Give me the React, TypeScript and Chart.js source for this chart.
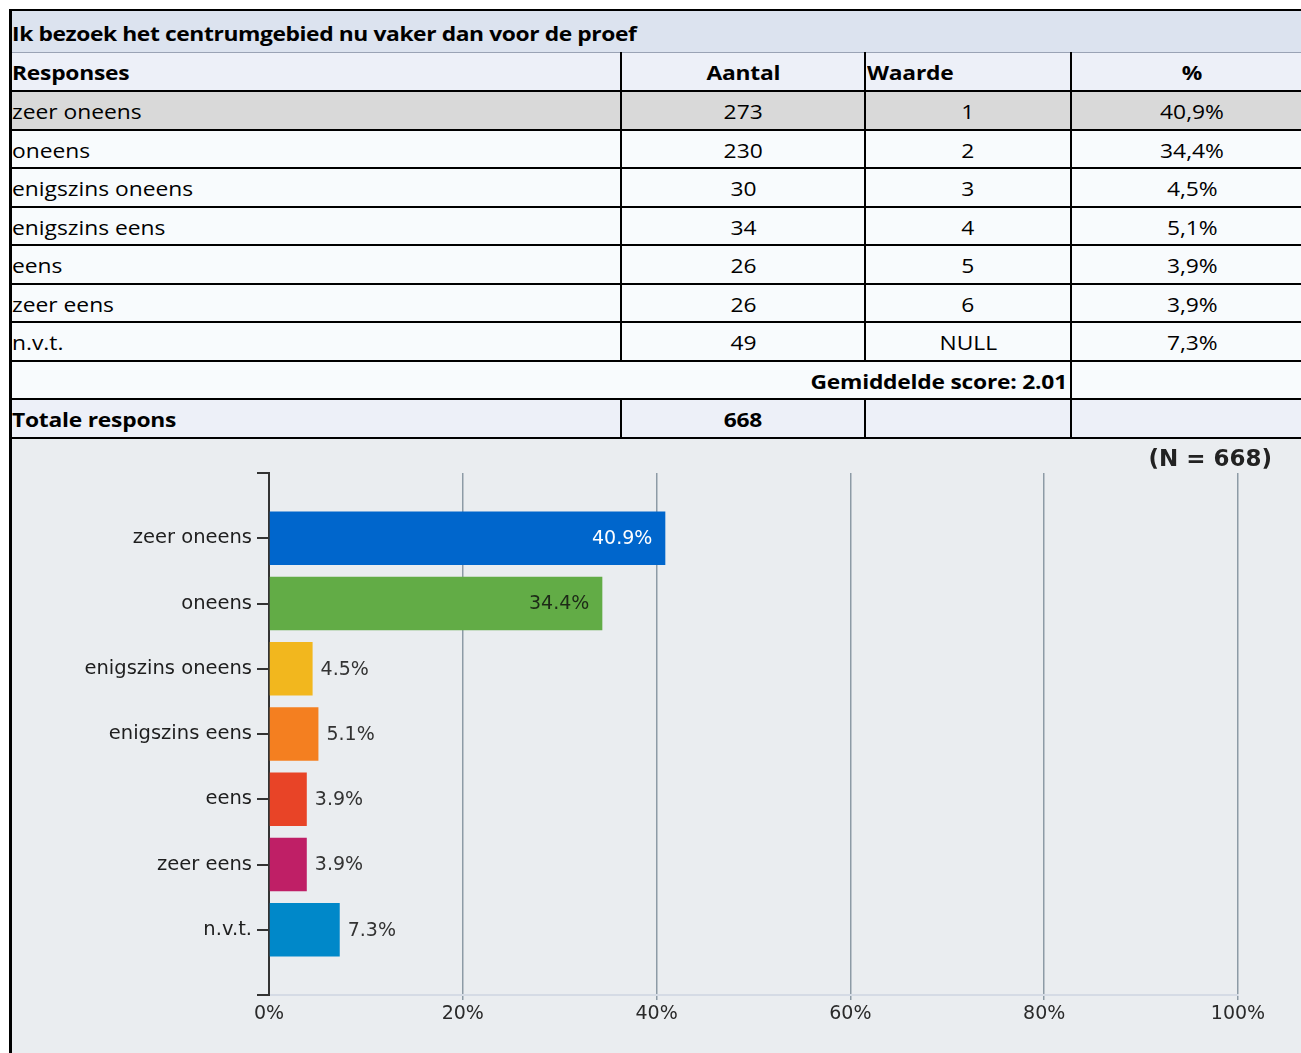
import React, { useEffect, useRef } from 'react';
import { Chart, registerables } from 'chart.js';

Chart.register(...registerables);

// ---------- data ----------
const titleText = 'Ik bezoek het centrumgebied nu vaker dan voor de proef';
const headerLabels = ['Responses', 'Aantal', 'Waarde', '%'];
const categories = ['zeer oneens', 'oneens', 'enigszins oneens', 'enigszins eens', 'eens', 'zeer eens', 'n.v.t.'];
const counts = [273, 230, 30, 34, 26, 26, 49];
const scoreValues = ['1', '2', '3', '4', '5', '6', 'NULL'];
const percentages = [40.9, 34.4, 4.5, 5.1, 3.9, 3.9, 7.3];
const averageText = 'Gemiddelde score: 2.01';
const totalLabel = 'Totale respons';
const totalCount = 668;
const sampleText = '(N = 668)';
const xTickValues = [0, 20, 40, 60, 80, 100];

// ---------- styles ----------
const barColors = ['#0066cc', '#62ac46', '#f2b71e', '#f47f20', '#e84427', '#bf1f66', '#0088c9'];
const rowY = [10, 52, 91, 130, 168, 207, 245, 284, 322, 361, 399, 438];
const colX = [10, 621, 865, 1071, 1313];
const TABLE_FONT = '"Open Sans", "Noto Sans", sans-serif';
const CHART_FONT = '"DejaVu Sans", sans-serif';
const FS = 20;
const SX = 1.14;

type Align = 'left' | 'center' | 'right';

function Cell(props: {
  x0: number;
  x1: number;
  y0: number;
  y1: number;
  text: string;
  align: Align;
  bold?: boolean;
  bg?: string;
  dy?: number;
  spacing?: number;
}) {
  const { x0, x1, y0, y1, text, align, bold, bg, dy, spacing } = props;
  const justify = align === 'left' ? 'flex-start' : align === 'right' ? 'flex-end' : 'center';
  return (
    <div
      style={{
        position: 'absolute',
        left: x0,
        top: y0,
        width: x1 - x0,
        height: y1 - y0,
        background: bg,
        display: 'flex',
        alignItems: 'center',
        justifyContent: justify,
        paddingLeft: align === 'left' ? 2 : 0,
        paddingRight: align === 'right' ? 4 : 0,
        paddingTop: dy ? dy : 0,
        boxSizing: 'border-box',
        fontFamily: TABLE_FONT,
        fontSize: FS,
        fontWeight: bold ? 700 : 400,
        color: '#000',
        whiteSpace: 'nowrap',
      }}
    >
      <span
        style={{
          display: 'inline-block',
          transform: `scaleX(${SX})`,
          transformOrigin: align === 'left' ? 'left center' : align === 'right' ? 'right center' : 'center center',
          letterSpacing: spacing ?? (bold ? -0.2 : 0),
        }}
      >
        {text}
      </span>
    </div>
  );
}

function HLine(props: { y: number; x0: number; x1: number; color?: string; w?: number }) {
  const w = props.w ?? 2;
  return (
    <div
      style={{
        position: 'absolute',
        left: props.x0,
        top: props.y - w / 2,
        width: props.x1 - props.x0,
        height: w,
        background: props.color ?? '#000',
      }}
    />
  );
}

function VLine(props: { x: number; y0: number; y1: number; w?: number }) {
  const w = props.w ?? 2;
  return (
    <div
      style={{
        position: 'absolute',
        left: props.x - w / 2,
        top: props.y0,
        width: w,
        height: props.y1 - props.y0,
        background: '#000',
      }}
    />
  );
}

function pctText(p: number) {
  return p.toFixed(1).replace('.', ',') + '%';
}

function luminance(hex: string) {
  const n = parseInt(hex.slice(1), 16);
  const r = ((n >> 16) & 255) / 255;
  const g = ((n >> 8) & 255) / 255;
  const b = (n & 255) / 255;
  return 0.2126 * r + 0.7152 * g + 0.0722 * b;
}

export default function App() {
  const canvasRef = useRef<HTMLCanvasElement | null>(null);

  useEffect(() => {
    const canvas = canvasRef.current;
    if (!canvas) return;
    const labels = ['', ...categories, ''];
    const data = [null, ...percentages, null];
    const colors = ['#000000', ...barColors, '#000000'];

    const valueLabels = {
      id: 'valueLabels',
      afterDatasetsDraw(chart: any) {
        const ctx = chart.ctx;
        const meta = chart.getDatasetMeta(0);
        ctx.save();
        ctx.font = `19px ${CHART_FONT}`;
        ctx.textBaseline = 'middle';
        meta.data.forEach((bar: any, i: number) => {
          const v = data[i];
          if (v == null) return;
          const text = v.toFixed(1) + '%';
          if (v > 20) {
            ctx.textAlign = 'right';
            ctx.fillStyle = luminance(colors[i]) < 0.45 ? '#ffffff' : '#1d2a17';
            ctx.fillText(text, bar.x - 13, bar.y + 1);
          } else {
            ctx.textAlign = 'left';
            ctx.fillStyle = '#333333';
            ctx.fillText(text, bar.x + 8, bar.y + 1);
          }
        });
        ctx.restore();
      },
    };

    const chart = new Chart(canvas, {
      type: 'bar',
      data: {
        labels,
        datasets: [
          {
            data,
            backgroundColor: colors,
            borderWidth: 0,
            barPercentage: 0.82,
            categoryPercentage: 1,
          },
        ],
      },
      options: {
        indexAxis: 'y',
        responsive: false,
        animation: false,
        devicePixelRatio: 1,
        layout: { padding: { top: 34, right: 63, left: 0, bottom: 0 } },
        plugins: { legend: { display: false }, tooltip: { enabled: false }, title: { display: false } },
        scales: {
          x: {
            type: 'linear',
            min: xTickValues[0],
            max: xTickValues[xTickValues.length - 1],
            afterBuildTicks: (s: any) => {
              s.ticks = xTickValues.map((v) => ({ value: v }));
            },
            ticks: {
              callback: (v: any) => v + '%',
              color: '#2a2a2a',
              font: { family: CHART_FONT, size: 19 },
              padding: 3,
              maxRotation: 0,
            },
            grid: {
              color: (c: any) => (c.tick && c.tick.value === 0 ? 'rgba(0,0,0,0)' : '#8d9ba6'),
              lineWidth: 1.5,
              tickLength: 5,
              drawTicks: true,
            },
            border: { display: true, color: '#d5dbe5', width: 2 },
            afterFit: (s: any) => {
              s.height = 58;
            },
          },
          y: {
            type: 'category',
            offset: false,
            ticks: { color: '#1e1e1e', font: { family: CHART_FONT, size: 19.5 }, padding: 5, autoSkip: false },
            grid: { drawOnChartArea: false, drawTicks: true, tickLength: 12, color: '#333', lineWidth: 2, offset: false },
            border: { display: true, color: '#333', width: 2 },
            afterFit: (s: any) => {
              s.width = 258;
            },
          },
        },
      } as any,
      plugins: [valueLabels],
    });
    return () => chart.destroy();
  }, []);

  const rows: { cells: string[]; bg: string; bold?: boolean }[] = [];
  rows.push({ cells: headerLabels, bg: '#edf0f8', bold: true });
  categories.forEach((c, i) => {
    rows.push({
      cells: [c, String(counts[i]), scoreValues[i], pctText(percentages[i])],
      bg: i === 0 ? '#d9d9d9' : '#f8fbfd',
    });
  });
  const aligns: Align[] = ['left', 'center', 'center', 'center'];
  const headerAligns: Align[] = ['left', 'center', 'left', 'center'];

  const elements: React.ReactNode[] = [];
  // title row
  elements.push(
    <Cell
      key="title"
      x0={colX[0]}
      x1={colX[4]}
      y0={rowY[0]}
      y1={rowY[1]}
      text={titleText}
      align="left"
      bold
      bg="#dce3ef"
      dy={5}
      spacing={-0.35}
    />
  );
  rows.forEach((r, ri) => {
    const y0 = rowY[ri + 1];
    const y1 = rowY[ri + 2];
    r.cells.forEach((t, ci) => {
      elements.push(
        <Cell
          key={`r${ri}c${ci}`}
          x0={colX[ci]}
          x1={colX[ci + 1]}
          y0={y0}
          y1={y1}
          text={t}
          align={ri === 0 ? headerAligns[ci] : aligns[ci]}
          bold={r.bold}
          bg={r.bg}
          dy={2}
        />
      );
    });
  });
  // average row
  elements.push(
    <Cell key="avg" x0={colX[0]} x1={colX[3]} y0={rowY[9]} y1={rowY[10]} text={averageText} align="right" bold bg="#f8fbfd" dy={2} />
  );
  elements.push(<Cell key="avg2" x0={colX[3]} x1={colX[4]} y0={rowY[9]} y1={rowY[10]} text="" align="left" bg="#f8fbfd" />);
  // total row
  elements.push(
    <Cell key="tot0" x0={colX[0]} x1={colX[1]} y0={rowY[10]} y1={rowY[11]} text={totalLabel} align="left" bold bg="#edf0f8" dy={2} />
  );
  elements.push(
    <Cell key="tot1" x0={colX[1]} x1={colX[2]} y0={rowY[10]} y1={rowY[11]} text={String(totalCount)} align="center" bold bg="#edf0f8" dy={2} />
  );
  elements.push(<Cell key="tot2" x0={colX[2]} x1={colX[3]} y0={rowY[10]} y1={rowY[11]} text="" align="center" bg="#edf0f8" />);
  elements.push(<Cell key="tot3" x0={colX[3]} x1={colX[4]} y0={rowY[10]} y1={rowY[11]} text="" align="center" bg="#edf0f8" />);

  // lines
  const lines: React.ReactNode[] = [];
  rowY.forEach((y, i) => {
    if (i === 1) lines.push(<HLine key={`h${i}`} y={y} x0={colX[0]} x1={colX[4]} color="#9aa3b5" w={1} />);
    else lines.push(<HLine key={`h${i}`} y={y} x0={colX[0] - 1} x1={colX[4]} />);
  });
  [1, 2, 3].forEach((ci) => {
    lines.push(<VLine key={`v${ci}a`} x={colX[ci]} y0={rowY[1]} y1={rowY[9]} />);
    lines.push(<VLine key={`v${ci}b`} x={colX[ci]} y0={rowY[10]} y1={rowY[11]} />);
  });
  lines.push(<VLine key="v3avg" x={colX[3]} y0={rowY[9]} y1={rowY[10]} />);
  lines.push(<VLine key="vleft" x={colX[0]} y0={rowY[0] - 1} y1={1053} w={3} />);

  return (
    <div style={{ position: 'fixed', left: 0, top: 0, width: 1301, height: 1053, overflow: 'hidden', background: '#ffffff' }}>
      {elements}
      <div style={{ position: 'absolute', left: 11, top: 439, width: 1290, height: 614, background: '#eaedf0' }} />
      <canvas
        ref={canvasRef}
        width={1290}
        height={614}
        style={{ position: 'absolute', left: 11, top: 439, width: 1290, height: 614 }}
      />
      <div
        style={{
          position: 'absolute',
          right: 29,
          top: 446,
          fontFamily: CHART_FONT,
          fontWeight: 700,
          fontSize: 23,
          lineHeight: '24px',
          color: '#222',
        }}
      >
        {sampleText}
      </div>
      {lines}
    </div>
  );
}
